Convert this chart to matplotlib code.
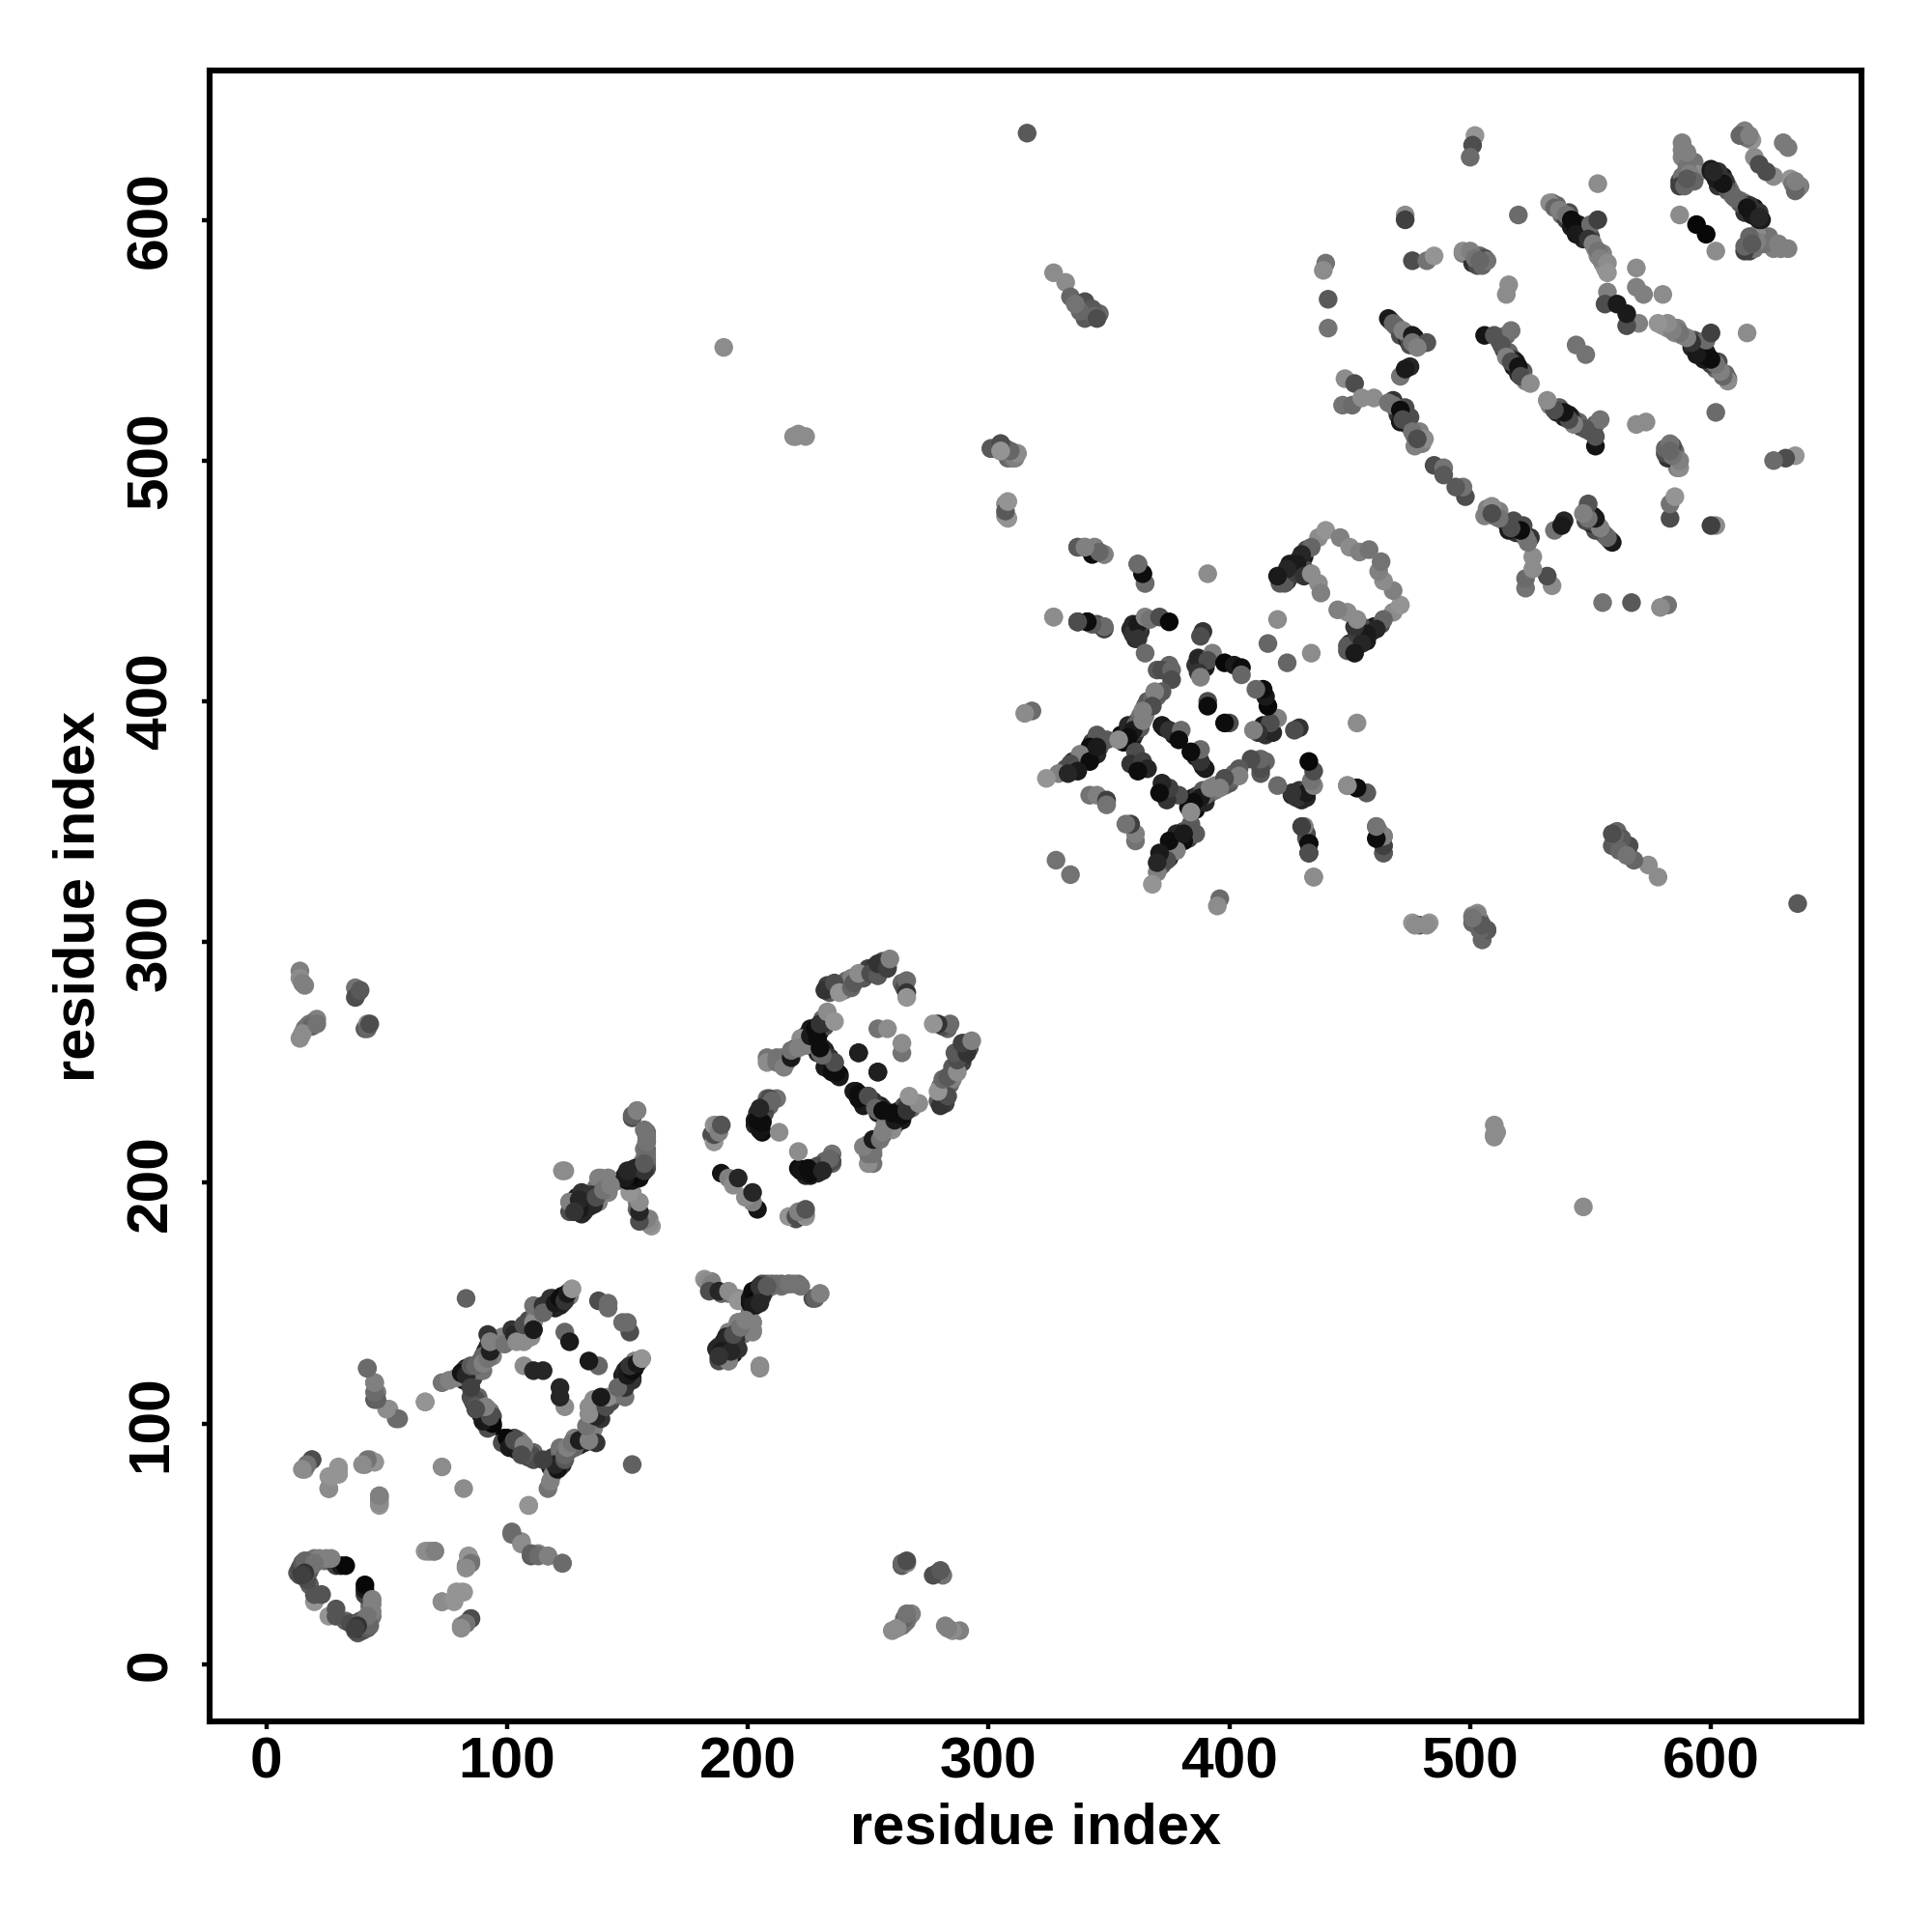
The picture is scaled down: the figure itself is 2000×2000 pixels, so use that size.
import numpy as np
import matplotlib
matplotlib.use('Agg')
from matplotlib import pyplot as plt

# contacts as (residue a, residue b, grey level), only one half of the symmetric map
knot_a = [(13,38,.35),(14,39,.3),(15,40,.35),(16,41,.3),(17,42,.35),(18,43,.4),(19,43,.4),(20,44,.45),(22,44,.5),
          (24,43,.45),(26,43,.4),(29,41,.25),(31,41,.1),(33,41,.03),(18,33,.38),(20,26,.58),(20,29,.33),(23,29,.33),
          (17,35,.3),(15,38,.25),(14,40,.3),(25,44,.5),(27,44,.5),(14,37,.3),(15,38,.2),(16,39,.25),(17,40,.2),(18,41,.3),
          (15,42,.35),(16,43,.4),(17,37,.3),(18,39,.35),(19,41,.4),(20,42,.45),(16,38,.2),(15,37,.25)]
far_a = [(83,152,.38),(42,123,.42),(45,117,.42),(46,113,.5),(45,110,.35),(51,106,.55),(55,102,.42),(66,109,.55),
         (19,85,.3),(16,81,.55),(17,83,.42),(26,73,.5),(26,78,.58),(30,79,.58),(30,81,.58),(41,83,.5),(43,85,.5),(45,84,.55),
         (47,70,.5),(47,66,.58),(47,68,.55),(73,82,.55),(66,109,.58),(54,102,.42),(50,106,.55),(46,110,.38),(45,113,.42),
         (45,117,.5),(42,123,.42),(47,67,.55),(47,69,.55),(47,70,.5),(45,84,.58),(42,85,.45),(40,83,.55),
         (26,73,.55),(27,78,.58),(30,79,.58),(30,82,.58),(19,85,.3),(17,83,.45),(15,81,.55)]
ring_a = [(73,117,.45),(76,118,.5),(79,119,.5),(81,121,.08),(83,120,.15),(85,124,.35),(87,124,.4),(90,125,.5),(92,127,.45),
          (93,130,.12),(92,137,.2),(93,134,.5),(99,133,.45),(103,137,.15),(104,134,.55),(107,134,.55),(107,141,.3),
          (111,142,.55),(111,139,.1),(111,149,.45),(115,149,.2),(115,146,.4),(120,150,.1),(122,152,.05),(124,151,.2),
          (125,154,.1),(127,156,.58),(107,124,.55),(111,122,.15),(115,122,.15),(124,138,.4),(126,134,.1),(138,151,.3),
          (142,150,.42),(142,148,.42),(85,111,.3),(87,110,.3),(87,107,.35),(89,104,.05),(92,106,.5),(91,100,.35),(94,99,.03),
          (94,103,.3),(92,98,.3),(94,100,.03),(90,101,.1),(93,103,.3),(91,107,.5),(87,106,.3),(85,115,.25)]
ring_a2 = [(82,118,.12),(83,123,.1),(84,120,.08),(85,121,.05),(86,119,.25),(82,122,.2),(88,122,.4),(89,126,.35),(90,122,.45),
           (91,130,.12),(92,132,.15),(94,128,.5),(94,131,.45),(93,136,.3),(90,128,.4),(92,128,.42),(116,148,.15),(117,150,.1),
           (118,149,.05),(119,152,.08),(120,148,.12),(121,151,.05),(122,149,.15),(123,153,.08),(123,150,.12),(124,152,.1),
           (126,155,.55),(126,153,.5),(118,152,.2),(86,109,.25),(88,108,.3),(90,103,.05),(92,102,.03),(93,105,.4),(88,111,.4),
           (98,136,.5),(101,135,.5),(102,139,.2),(105,138,.3),(106,136,.5),(108,138,.45),(109,143,.3),(110,136,.55),(113,147,.3),(112,145,.45)]
hook_b = [(154,230,.55),(152,227,.3),(158,221,.42),(158,217,.45),(158,212,.45),(158,208,.42),(156,205,.3),(153,203,.1),
          (150,201,.1),(152,204,.15),(124,205,.55),(139,202,.5),(142,202,.5),(147,201,.42),(142,196,.5),(139,196,.3),
          (136,196,.45),(132,195,.12),(126,192,.45),(134,192,.12),(131,190,.1),(127,188,.3),(132,188,.25),(152,196,.55),
          (154,192,.5),(154,189,.4),(156,185,.35),(159,185,.5),(160,182,.58),
          (149,203,.1),(150,204,.08),(151,201,.05),(151,205,.12),(152,202,.08),(153,205,.15),(154,206,.2),(155,207,.35),
          (156,208,.42),(157,210,.45),(157,214,.45),(158,219,.45),(128,192,.2),(129,194,.1),(130,191,.08),(131,193,.15),
          (133,190,.1),(133,194,.3),(135,194,.15),(137,198,.45),(140,198,.4),(141,200,.45)]
ring_c = [(185,220,.3),(186,217,.58),(186,220,.3),(186,224,.58),(187,224,.55),(188,221,.5),(189,224,.33),(189,204,.08),
          (192,202,.5),(194,199,.55),(196,202,.15),(203,224,.15),(204,227,.1),(205,224,.1),(206,230,.2),(206,221,.05),
          (208,235,.4),(209,232,.4),(212,235,.45),(213,221,.55),
          (203,226,.1),(204,229,.15),(205,228,.2),(205,222,.08),(206,226,.1),(207,232,.2),(207,229,.3),(208,233,.25),
          (209,235,.3),(210,234,.4),(204,226,.05),(206,225,.05),(205,231,.15)]
band_e = [(159,183,.55),(158,185,.5),(155,184,.3),(155,188,.15),(155,192,.55),(151,196,.58),(150,201,.05),(154,202,.1),
          (156,204,.1),(158,206,.3),(158,210,.42),(158,214,.42),(158,217,.45),(157,222,.45),(152,228,.38),(154,230,.5),
          (142,202,.5),(138,202,.5),(142,196,.5),(139,196,.35),(138,192,.5),(134,194,.1),(134,190,.15),(131,196,.2),
          (131,187,.15),(126,188,.3),(126,192,.5),(123,205,.55),
          (150,203,.05),(152,201,.08),(153,204,.1),(155,202,.05),(151,203,.03),(153,206,.15),(157,205,.2),(157,208,.35),
          (149,202,.1),(150,205,.15),(133,193,.1),(132,192,.05),(135,195,.2),(136,191,.15),(130,189,.1),(130,193,.15),
          (128,188,.2),(137,194,.3),(140,197,.45),(143,199,.5)]
ring_d = [(208,252,.45),(208,250,.55),(212,252,.45),(212,250,.45),(215,248,.5),(218,252,.1),(218,255,.45),(222,260,.55),
          (221,256,.5),(224,257,.5),(226,261,.1),(228,264,.05),(229,260,.05),(230,266,.2),(233,271,.55),(236,267,.58),
          (232,280,.2),(236,283,.3),(238,279,.58),(243,281,.4),(244,283,.35),(246,287,.55),(251,287,.3),(254,286,.35),
          (254,291,.2),(258,289,.25),(259,293,.5),(266,284,.42),(266,279,.2),(266,277,.58),(254,264,.45),(258,264,.55),
          (246,254,.12),(230,254,.4),(236,250,.25),(235,246,.05),(238,245,.03),(238,244,.1),(237,246,.05),(236,250,.3),
          (231,253,.4),(230,256,.05),(246,254,.12)]
ring_d2 = [(224,261,.1),(225,259,.05),(226,264,.1),(227,262,.03),(228,262,.05),(229,265,.1),(230,263,.05),(231,268,.4),
           (232,265,.3),(227,259,.1),(216,250,.45),(214,252,.5),(220,256,.3),(222,257,.4),(234,268,.5),(231,266,.2),
           (233,282,.25),(234,279,.35),(240,280,.45),(241,284,.4),(243,285,.5),(248,285,.35),(250,289,.25),(252,288,.2),
           (253,290,.2),(256,289,.15),(256,292,.3),(258,290,.4),(257,291,.45),(264,283,.4),(265,281,.3),
           (232,252,.3),(233,250,.2),(235,249,.05),(236,247,.03),(234,247,.05),(237,245,.03),(232,255,.1),(229,254,.1),
           (229,258,.05),(231,256,.15),(234,252,.2),(232,248,.1)]
star_f = [(337,464,.35),(340,464,.25),(344,464,.5),(343,461,.05),(348,461,.45),(362,457,.35),(364,453,.05),(365,449,.55),
          (391,453,.55),(327,435,.55),(337,433,.3),(341,433,.1),(345,432,.3),(348,431,.5),(360,432,.15),(360,428,.2),
          (362,432,.1),(362,426,.2),(365,435,.5),(367,434,.45),(365,420,.42),(371,435,.3),(375,433,.03),(389,429,.2),
          (388,427,.3),(393,420,.5),(391,417,.3),(387,412,.2),(388,410,.5),(398,416,.03),(402,415,.1),(405,414,.05),(405,411,.4),
          (372,413,.3),(376,413,.4),(376,409,.3),(372,404,.35),(369,404,.5),(368,398,.3),(364,396,.5),(391,400,.3),(391,398,.05),
          (361,390,.4),(360,388,.1),(358,385,.05),(364,392,.5),(372,390,.1),(375,388,.2),(380,388,.42),(379,384,.05),
          (349,384,.35),(345,386,.35),(354,384,.55),(342,381,.05),(345,378,.15),(338,378,.5),(342,375,.05),(334,374,.3),
          (337,371,.1),(329,370,.5),(324,368,.58),(333,370,.15),(361,379,.3),(359,374,.2),(364,375,.25),(366,372,.15),(362,371,.05),
          (342,361,.45),(345,361,.5),(349,359,.25),(349,357,.45),(328,334,.45),(318,396,.42),(315,395,.55),(420,434,.55),(416,424,.4),
          (437,468,.55),(434,464,.4),(430,461,.15),(428,457,.1),(424,455,.15),(421,449,.35),(420,452,.1),(431,452,.2),(434,453,.55),
          (437,449,.55),(438,445,.5),(440,471,.58),(446,468,.5),(450,464,.55),(454,462,.5),(458,463,.45)]
star_f2 = [(343,379,.1),(344,381,.05),(340,378,.08),(339,376,.05),(341,377,.1),(336,372,.1),(335,375,.15),(333,372,.2),(332,372,.35),
           (347,383,.2),(343,383,.25),(346,381,.3),(355,386,.05),(356,383,.05),(357,386,.1),(359,388,.05),(358,390,.15),(360,385,.1),
           (361,387,.2),(362,392,.3),(363,389,.35),(363,394,.45),(365,398,.4),(365,394,.5),(366,400,.35),(368,401,.4),(370,402,.4),
           (360,428,.1),(361,430,.1),(359,430,.15),(361,426,.15),(363,429,.2),(364,433,.3),(386,415,.2),(388,413,.1),(389,416,.25),
           (387,418,.15),(390,414,.1),(375,415,.4),(370,413,.35),(362,376,.1),(363,372,.1),(364,373,.2),(361,373,.1),(373,389,.1),
           (377,386,.1),(378,386,.2),(422,452,.1),(424,450,.15),(425,457,.1),(426,454,.1),(427,456,.05),(429,459,.1),(429,456,.15),
           (431,460,.1),(432,463,.3),(423,449,.35),(428,453,.25),(431,455,.3)]
links_f = [(476,308,.58),(479,307,.35),(483,308,.58),(501,311,.5),(503,312,.55),(504,309,.4),(505,301,.35),(507,305,.3),(504,305,.58),
           (348,430,.25),(341,433,.05),(337,433,.3),(345,381,.1),(461,348,.5),(464,344,.5),(464,337,.35),(462,346,.4),(464,340,.5),
           (449,365,.42),(453,364,.05),(457,362,.42),(431,348,.42),(432,343,.35),(433,341,.05),(433,337,.3),(435,327,.55)]
bands_g = [(502,635,.58),(501,631,.3),(500,626,.42),(553,615,.55),(473,602,.55),(473,600,.25),(520,602,.42),
           (533,607,.55),(535,605,.4),(537,604,.5),(540,602,.45),(542,600,.05),(544,596,.05),(544,594,.1),(550,598,.42),(553,600,.25),
           (549,592,.2),(551,590,.5),(553,587,.45),(554,584,.5),(557,582,.55),(557,578,.58),(476,583,.3),(482,583,.45),(485,585,.58),
           (497,587,.55),(500,587,.5),(502,584,.45),(505,581,.4),(507,583,.45),(504,583,.4),(440,582,.45),(439,579,.55),(441,567,.35),
           (441,555,.45),(515,569,.55),(516,573,.55),(569,580,.55),(569,572,.5),(557,570,.5),(556,565,.3),(561,565,.1),
           (466,559,.1),(468,557,.4),(472,554,.5),(476,552,.1),(476,549,.45),(482,549,.33),(478,547,.5),(475,539,.15),(471,535,.45),(473,538,.1),
           (506,552,.08),(510,552,.33),(517,554,.45),(513,548,.33),(515,543,.5),(517,541,.3),(520,539,.08),(521,535,.3),(525,532,.55),
           (544,548,.45),(448,534,.55),(452,532,.3),(447,523,.45),(451,523,.42),(455,526,.55),(460,526,.55),(466,524,.45),(468,523,.45),
           (471,521,.05),(472,517,.3),(476,512,.45),(481,509,.55),(477,506,.5),(478,509,.3),(485,498,.3),(489,497,.45),(489,494,.35)]
bands_g2 = [(534,607,.4),(536,606,.4),(538,602,.4),(540,600,.25),(541,603,.3),(542,597,.1),(543,599,.05),(545,598,.1),(546,594,.1),
            (546,596,.05),(547,592,.15),(548,596,.3),(550,593,.3),(552,588,.5),(553,585,.55),(555,586,.5),(555,582,.55),(556,580,.58),
            (467,558,.2),(469,556,.3),(470,555,.4),(471,552,.3),(473,553,.2),(474,550,.15),(475,548,.3),(477,551,.08),(479,548,.4),(474,552,.3),
            (468,525,.2),(469,522,.15),(470,519,.2),(473,520,.1),(474,515,.25),(475,518,.3),(477,510,.4),(479,512,.5),(473,522,.3),(471,516,.1),(480,507,.5),
            (512,550,.33),(514,546,.25),(516,545,.4),(518,539,.1),(518,542,.25),(519,541,.1),(520,536,.15),(522,537,.35),(523,533,.5),(515,552,.4),
            (497,586,.5),(501,582,.2),(503,585,.35),(505,583,.35),(504,585,.4),(506,584,.3),(503,581,.3)]
corner_g = [(588,632,.5),(588,626,.5),(593,624,.45),(587,616,.25),(589,616,.45),(594,619,.55),(601,619,.05),(604,618,.15),(607,614,.45),
            (608,612,.42),(613,636,.42),(617,633,.58),(618,626,.55),(620,623,.3),(630,632,.48),(587,602,.55),(594,598,.03),(603,614,.2),(605,616,.3),
            (602,617,.1),(600,620,.1),(605,618,.1),(606,616,.2),(607,612,.35),(609,610,.4),(603,620,.2),(605,615,.08),(615,634,.45),(614,637,.5),
            (612,635,.4),(616,635,.5),(600,621,.1),(601,620,.15),(588,618,.45),(590,622,.45),(591,619,.5),(593,616,.4),(587,614,.25),(589,614,.4),
            (590,628,.5),(588,629,.5),(590,617,.35)]
far_h = [(14,288,.5),(16,282,.5),(14,260,.55),(16,264,.45),(20,267,.4),(21,268,.5),(38,279,.3),(37,281,.45),(41,264,.35),(42,266,.55),
         (327,578,.55),(332,574,.55),(334,568,.4),(340,566,.3),(342,561,.35),(346,561,.4),(340,559,.35),(301,505,.4),(305,507,.35),
         (309,503,.4),(311,503,.5),(308,501,.4),(307,482,.55),(307,477,.55),(316,636,.35),(190,547,.55),(220,510,.55),(224,510,.55),
         (221,511,.55),(219,510,.55),(14,285,.55),(15,283,.5),(17,265,.45),(18,266,.45),(19,265,.4),(15,262,.55),(21,266,.45),(37,277,.3),
         (39,280,.35),(42,264,.4),(43,266,.3),(341,564,.3),(343,563,.35),(344,560,.4),(338,562,.4),(336,565,.45),(345,559,.3),
         (305,504,.4),(307,505,.35),(310,501,.45)]

groups = [knot_a, far_a, ring_a2, ring_a, hook_b, ring_c, band_e, ring_d2, ring_d, star_f2, star_f, links_f, bands_g2, bands_g, corner_g, far_h]
pairs = np.array([p for g in groups for p in g])
a, b, grey = pairs[:,0], pairs[:,1], pairs[:,2]

ticks = [0, 100, 200, 300, 400, 500, 600]

plt.rcParams['font.family'] = ['Liberation Sans', 'DejaVu Sans']
plt.rcParams['font.weight'] = 'bold'

fig = plt.figure(figsize=(20, 20), dpi=100)
ax = fig.add_axes([217/2000, 218/2000, 1710/2000, 1709/2000])

colors = [(g, g, g) for g in grey]
ax.scatter(a, b, s=195, c=colors, linewidths=0)
ax.scatter(b, a, s=195, c=colors, linewidths=0)

ax.set_xlim(-23.5, 662.5)
ax.set_ylim(-23.7, 662)
ax.set_xticks(ticks)
ax.set_yticks(ticks)
ax.tick_params(length=5.5, width=3.2, labelsize=43.5)
ax.tick_params(axis='x', pad=6)
ax.tick_params(axis='y', pad=18)
for t in ax.get_yticklabels():
    t.set_rotation(90)
    t.set_va('center')
for s in ax.spines.values():
    s.set_linewidth(4.4)
ax.set_xlabel('residue index', fontsize=42.9, fontweight='bold', labelpad=9)
ax.set_ylabel('residue index', fontsize=42.9, fontweight='bold', labelpad=14)

fig.savefig('out.png', dpi=100)
